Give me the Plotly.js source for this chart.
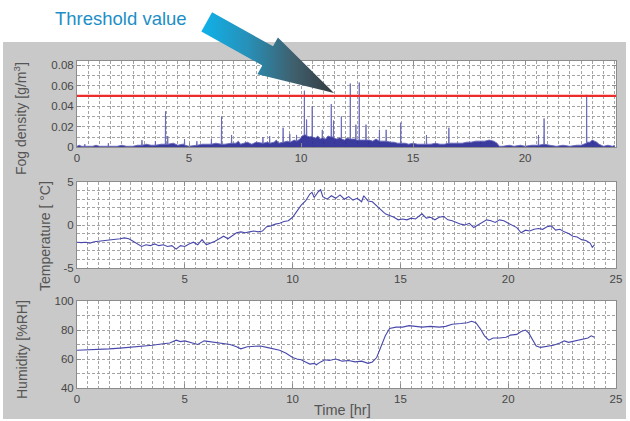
<!DOCTYPE html>
<html>
<head>
<meta charset="utf-8">
<script src="https://cdn.plot.ly/plotly-3.0.1.min.js"></script>
<style>html,body{margin:0;padding:0;background:#fff;}#chart{width:630px;height:421px;}</style>
</head>
<body>
<div id="chart"></div>
<script>
// ---------- data ----------
const fogHours = [0.00,0.10,0.20,0.34,0.35,0.36,0.70,0.85,1.00,1.30,1.39,1.40,1.41,1.80,2.00,2.20,2.50,2.70,2.89,2.90,2.91,3.10,3.30,3.49,3.50,3.51,3.75,3.94,3.95,3.96,4.04,4.05,4.06,4.30,4.50,4.70,4.79,4.80,4.81,5.00,5.20,5.34,5.35,5.36,5.60,5.80,5.99,6.00,6.01,6.20,6.44,6.45,6.46,6.60,6.80,6.89,6.90,6.91,7.10,7.20,7.30,7.50,7.60,7.80,8.00,8.29,8.30,8.31,8.50,8.59,8.60,8.61,8.80,8.90,9.00,9.19,9.20,9.21,9.40,9.49,9.50,9.51,9.70,9.79,9.80,9.81,9.95,10.05,10.14,10.15,10.16,10.24,10.25,10.26,10.40,10.49,10.50,10.51,10.65,10.75,10.85,10.94,10.95,10.96,11.10,11.20,11.34,11.35,11.36,11.44,11.45,11.46,11.60,11.70,11.79,11.80,11.81,11.95,12.05,12.19,12.20,12.21,12.35,12.44,12.45,12.46,12.59,12.60,12.61,12.75,12.89,12.90,12.91,13.05,13.20,13.35,13.49,13.50,13.51,13.70,13.79,13.80,13.81,14.00,14.15,14.30,14.44,14.45,14.46,14.65,14.80,15.00,15.20,15.40,15.59,15.60,15.61,15.80,16.00,16.20,16.40,16.59,16.60,16.61,16.80,17.00,17.20,17.40,17.60,17.80,18.00,18.20,18.40,18.60,18.75,18.85,19.00,19.30,19.50,19.80,20.00,20.30,20.59,20.60,20.61,20.84,20.85,20.86,21.10,21.40,21.70,22.00,22.30,22.50,22.74,22.75,22.76,22.90,23.00,23.10,23.20,23.30,23.50,23.70,23.90,24.00];
const fogDensity = [0.001,0.002,0.001,0.001,0.003,0.001,0.001,0.002,0.001,0.001,0.001,0.004,0.001,0.001,0.002,0.001,0.001,0.002,0.002,0.007,0.002,0.003,0.002,0.002,0.006,0.002,0.003,0.003,0.035,0.003,0.003,0.011,0.003,0.004,0.002,0.003,0.003,0.008,0.002,0.001,0.002,0.002,0.006,0.002,0.003,0.003,0.003,0.008,0.003,0.004,0.003,0.030,0.003,0.003,0.004,0.004,0.012,0.004,0.004,0.006,0.003,0.004,0.005,0.003,0.005,0.004,0.010,0.004,0.005,0.004,0.011,0.004,0.005,0.007,0.004,0.005,0.019,0.005,0.006,0.005,0.013,0.005,0.007,0.006,0.012,0.006,0.008,0.011,0.012,0.055,0.012,0.012,0.027,0.011,0.010,0.011,0.040,0.010,0.009,0.011,0.008,0.009,0.017,0.009,0.008,0.011,0.010,0.042,0.010,0.010,0.026,0.009,0.008,0.009,0.009,0.030,0.008,0.007,0.009,0.008,0.062,0.008,0.008,0.008,0.022,0.007,0.007,0.063,0.007,0.007,0.007,0.022,0.007,0.007,0.006,0.008,0.006,0.017,0.006,0.006,0.006,0.017,0.006,0.005,0.005,0.004,0.004,0.024,0.004,0.004,0.003,0.004,0.003,0.003,0.003,0.012,0.003,0.003,0.004,0.003,0.003,0.004,0.019,0.004,0.004,0.004,0.004,0.005,0.005,0.006,0.006,0.006,0.007,0.006,0.004,0.001,0.001,0.002,0.001,0.002,0.001,0.002,0.002,0.012,0.002,0.003,0.028,0.003,0.002,0.001,0.002,0.001,0.002,0.002,0.004,0.051,0.005,0.005,0.007,0.006,0.005,0.003,0.001,0.002,0.001,0.002];
const threshold = 0.05;

const tempHours = [0.0,0.2,0.4,0.6,0.8,1.0,1.2,1.4,1.6,1.8,2.0,2.2,2.4,2.6,2.8,3.0,3.2,3.4,3.6,3.8,4.0,4.2,4.4,4.6,4.8,5.0,5.2,5.4,5.6,5.8,6.0,6.2,6.4,6.6,6.8,7.0,7.2,7.4,7.6,7.8,8.0,8.2,8.4,8.6,8.8,9.0,9.2,9.4,9.6,9.8,10.0,10.2,10.4,10.6,10.8,10.9,11.0,11.2,11.3,11.4,11.6,11.8,12.0,12.2,12.4,12.6,12.8,13.0,13.2,13.3,13.5,13.7,13.9,14.1,14.3,14.5,14.7,14.9,15.1,15.3,15.5,15.7,15.9,16.0,16.2,16.4,16.6,16.8,17.0,17.2,17.4,17.6,17.8,18.0,18.2,18.4,18.6,18.8,19.0,19.2,19.4,19.6,19.8,20.0,20.2,20.4,20.6,20.8,21.0,21.2,21.4,21.6,21.8,22.0,22.2,22.4,22.6,22.8,23.0,23.2,23.4,23.6,23.8,23.9,24.0];
const temperature = [-2.0,-2.05,-2.0,-2.1,-1.95,-1.9,-1.85,-1.75,-1.7,-1.65,-1.6,-1.5,-1.6,-1.9,-2.2,-2.5,-2.3,-2.4,-2.2,-2.4,-2.3,-2.5,-2.4,-2.8,-2.4,-2.5,-2.2,-2.0,-2.3,-1.7,-2.3,-2.1,-1.9,-1.6,-1.3,-1.6,-1.2,-0.9,-0.8,-0.9,-0.8,-0.7,-0.8,-0.7,-0.2,-0.1,0.1,0.2,0.4,0.5,0.9,1.6,2.3,2.8,3.6,3.8,3.2,3.9,4.1,3.3,3.0,3.4,3.1,3.5,3.0,3.3,2.9,3.1,2.7,3.4,2.8,2.7,2.2,1.8,1.3,1.1,0.9,0.6,0.7,0.6,0.8,0.7,1.1,1.3,0.8,0.9,0.6,0.9,1.0,0.6,0.5,0.3,0.1,0.0,0.2,-0.3,0.0,0.4,0.6,0.5,0.3,0.6,0.5,0.2,-0.1,-0.3,-0.9,-0.6,-0.7,-0.5,-0.4,-0.5,-0.2,-0.1,-0.6,-0.5,-0.8,-1.0,-1.3,-1.4,-1.7,-1.8,-2.1,-2.6,-2.3];

const humHours = [0.0,0.3,0.6,1.0,1.5,2.0,2.5,3.0,3.5,4.0,4.3,4.6,4.8,5.0,5.3,5.6,5.9,6.2,6.5,6.8,7.1,7.4,7.6,7.9,8.2,8.5,8.8,9.1,9.4,9.7,10.0,10.2,10.4,10.6,10.8,11.0,11.1,11.3,11.5,11.7,12.0,12.3,12.6,12.9,13.2,13.5,13.7,13.9,14.1,14.3,14.5,14.8,15.1,15.4,15.7,16.0,16.4,16.8,17.1,17.4,17.8,18.1,18.3,18.5,18.7,18.9,19.1,19.3,19.6,19.9,20.1,20.4,20.6,20.8,20.95,21.1,21.3,21.5,21.8,22.1,22.4,22.6,22.8,23.1,23.4,23.7,23.85,24.0];
const humidity = [66,66.2,66,66.5,67,67.5,68,69,69.5,70.5,71,73,72,72.5,71,70,72.5,72,71.5,70.5,70,68.5,67,68.5,68.5,69,68,67,66,64,61,60,59.5,58,56.5,57,56,58,59.5,59,60,58.5,59,58,58.5,57,58,61,68,76,81,82,82,83,82.5,82,82.5,82,82.5,84,84.5,85,86,85,81,76,73,74.5,74.5,75,76.5,77,79,80,78,74,69,68,68.5,69.5,71,72.5,71.5,72.5,74,74.5,76,75];

const xTickVals = [0,5,10,15,20,25];
const fogTickVals = [0,0.02,0.04,0.06,0.08];
const fogTickText = ['0','0.02','0.04','0.06','0.08'];
const tempTickVals = [-5,0,5];
const tempTickText = ['-5','0','5'];
const humTickVals = [40,60,80,100];

// ---------- styling ----------
const W = 630, H = 421;
const FONT = 'Liberation Sans, Arial, sans-serif';
const gridStyle = {showgrid:true, gridcolor:'#a3a3a3', griddash:'3px,2px', gridwidth:1};
function axisBase(extra){
  return Object.assign({
    showline:true, linecolor:'#8c8c8c', linewidth:1, mirror:'ticks',
    ticks:'inside', ticklen:4, tickcolor:'#8c8c8c',
    zeroline:false, fixedrange:true,
    tickfont:{family:FONT, size:11.5, color:'#474747'},
    tickmode:'array'
  }, gridStyle, extra);
}
const xDom = [77/W, 616/W];
const dTop = [1-147.3/H, 1-60.7/H];
const dMid = [1-268/H, 1-182/H];
const dBot = [1-388/H, 1-301/H];

// arrow geometry (decoration, in pixel space of the overlay axes)
const arrowTail = [206.7, 21.8], arrowTip = [334, 93];
const headLen = 76, shaftHalf = 11, headHalf = 21;
const dx = arrowTip[0]-arrowTail[0], dy = arrowTip[1]-arrowTail[1];
const len = Math.hypot(dx,dy), ux = dx/len, uy = dy/len, nx = -uy, ny = ux;
const bx = arrowTip[0]-ux*headLen, by = arrowTip[1]-uy*headLen;
const arrowX = [arrowTail[0]-nx*shaftHalf, bx-nx*shaftHalf, bx-nx*headHalf, arrowTip[0], bx+nx*headHalf, bx+nx*shaftHalf, arrowTail[0]+nx*shaftHalf, arrowTail[0]-nx*shaftHalf];
const arrowY = [arrowTail[1]-ny*shaftHalf, by-ny*shaftHalf, by-ny*headHalf, arrowTip[1], by+ny*headHalf, by+ny*shaftHalf, arrowTail[1]+ny*shaftHalf, arrowTail[1]-ny*shaftHalf];

const traces = [
  {x:fogHours, y:fogDensity, type:'scatter', mode:'lines', fill:'tozeroy',
   line:{color:'rgb(105,105,185)', width:0.9}, fillcolor:'rgba(42,42,150,0.92)',
   xaxis:'x', yaxis:'y', hoverinfo:'skip', showlegend:false},
  {x:tempHours, y:temperature, type:'scatter', mode:'lines',
   line:{color:'rgb(72,72,172)', width:1.1}, xaxis:'x2', yaxis:'y2', hoverinfo:'skip', showlegend:false},
  {x:humHours, y:humidity, type:'scatter', mode:'lines',
   line:{color:'rgb(72,72,172)', width:1.1}, xaxis:'x3', yaxis:'y3', hoverinfo:'skip', showlegend:false},
  {x:arrowX, y:arrowY, type:'scatter', mode:'lines', fill:'toself',
   line:{width:0, color:'rgba(0,0,0,0)'},
   fillgradient:{type:'horizontal', colorscale:[[0,'#0fb2ea'],[0.35,'#2790b8'],[0.7,'#3f5f6c'],[1,'#343a40']]},
   xaxis:'x4', yaxis:'y4', hoverinfo:'skip', showlegend:false}
];

function ann(text, px, py, size, color, angle){
  return {text:text, x:px/W, y:1-py/H, xref:'paper', yref:'paper', showarrow:false,
    xanchor:'center', yanchor:'middle', textangle:angle||0,
    font:{family:FONT, size:size, color:color}};
}

const layout = {
  width:W, height:H, margin:{l:0,r:0,t:0,b:0},
  paper_bgcolor:'#ffffff', plot_bgcolor:'rgba(0,0,0,0)',
  showlegend:false,
  xaxis: axisBase({domain:xDom, anchor:'y', range:[0,24.06], tickvals:xTickVals, minor:Object.assign({dtick:0.5, tick0:0}, gridStyle)}),
  yaxis: axisBase({domain:dTop, anchor:'x', range:[0,0.0842], tickvals:fogTickVals, ticktext:fogTickText, minor:Object.assign({dtick:0.01, tick0:0}, gridStyle)}),
  xaxis2: axisBase({domain:xDom, anchor:'y2', range:[0,25], tickvals:xTickVals, minor:Object.assign({dtick:0.5, tick0:0}, gridStyle)}),
  yaxis2: axisBase({domain:dMid, anchor:'x2', range:[-5,5], tickvals:tempTickVals, ticktext:tempTickText, minor:Object.assign({dtick:1, tick0:0}, gridStyle)}),
  xaxis3: axisBase({domain:xDom, anchor:'y3', range:[0,25], tickvals:xTickVals, minor:Object.assign({dtick:0.5, tick0:0}, gridStyle)}),
  yaxis3: axisBase({domain:dBot, anchor:'x3', range:[40,100], tickvals:humTickVals, minor:Object.assign({dtick:10, tick0:0}, gridStyle)}),
  xaxis4: {domain:[0,1], anchor:'y4', range:[0,W], visible:false, fixedrange:true},
  yaxis4: {domain:[0,1], anchor:'x4', range:[H,0], visible:false, fixedrange:true},
  shapes: [
    {type:'rect', xref:'paper', yref:'paper', x0:3/W, x1:626/W, y0:1-419/H, y1:1-42/H, fillcolor:'#c9c9c9', line:{width:0}, layer:'below'},
    {type:'rect', xref:'x domain', yref:'y domain', x0:0, x1:1, y0:0, y1:1, fillcolor:'#ffffff', line:{width:0}, layer:'below'},
    {type:'rect', xref:'x2 domain', yref:'y2 domain', x0:0, x1:1, y0:0, y1:1, fillcolor:'#ffffff', line:{width:0}, layer:'below'},
    {type:'rect', xref:'x3 domain', yref:'y3 domain', x0:0, x1:1, y0:0, y1:1, fillcolor:'#ffffff', line:{width:0}, layer:'below'},
    {type:'line', xref:'x domain', yref:'y', x0:0, x1:1, y0:threshold, y1:threshold, line:{color:'#ee2b2b', width:2.2}, layer:'above'}
  ],
  annotations: [
    ann('Threshold value', 121, 18, 18.5, '#1d8fc6'),
    ann('Fog density [g/m<sup>3</sup>]', 20, 119, 14, '#555555', -90),
    ann('Temperature [ °C]', 45, 236, 14, '#555555', -90),
    ann('Humidity [%RH]', 22, 350, 14, '#555555', -90),
    ann('Time [hr]', 342, 410, 14.5, '#555555')
  ]
};

Plotly.newPlot('chart', traces, layout, {staticPlot:true, displayModeBar:false});
</script>
</body>
</html>
